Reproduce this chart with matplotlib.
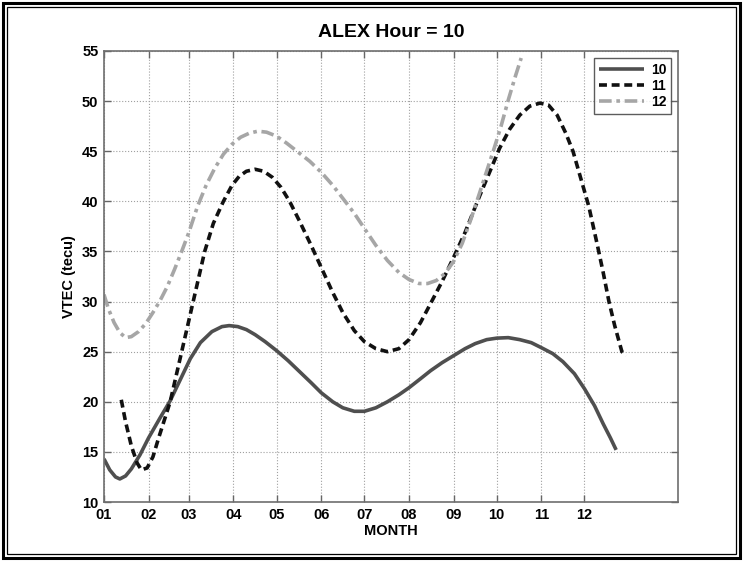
import matplotlib
matplotlib.use("Agg")
import matplotlib.pyplot as plt
from matplotlib.patches import Rectangle

plt.rcParams['font.family'] = ['Liberation Sans', 'DejaVu Sans']

# Month tick positions (day of year) and labels
month_days = [1, 32, 60, 91, 121, 152, 182, 213, 244, 274, 305, 335]
month_labels = ['01', '02', '03', '04', '05', '06', '07', '08', '09', '10', '11', '12']
y_ticks = [10, 15, 20, 25, 30, 35, 40, 45, 50, 55]

# Series "10" (solid)
d10 = [1, 5, 9, 12, 16, 20, 26, 32, 40, 47, 54, 61, 68, 76, 83, 88, 94, 100, 106, 113,
       121, 129, 137, 145, 152, 160, 167, 175, 182, 190, 198, 206, 213, 221, 228, 236,
       244, 252, 259, 267, 274, 282, 290, 298, 305, 313, 320, 328, 335, 342, 348, 353, 357]
v10 = [14.3, 13.2, 12.5, 12.3, 12.6, 13.3, 14.7, 16.4, 18.4, 20.1, 22.2, 24.3, 25.9, 27.0,
       27.5, 27.6, 27.5, 27.2, 26.7, 26.0, 25.1, 24.1, 23.0, 21.9, 20.9, 20.0, 19.4, 19.05,
       19.05, 19.4, 20.0, 20.7, 21.4, 22.3, 23.1, 23.9, 24.6, 25.3, 25.8, 26.2, 26.35, 26.4,
       26.2, 25.9, 25.4, 24.8, 24.0, 22.8, 21.3, 19.6, 17.8, 16.4, 15.2]

# Series "11" (dashed)
d11 = [13, 16, 20, 24, 27, 31, 35, 39, 43, 47, 51, 55, 59, 63, 67, 71, 77, 84, 90, 95, 100,
       106, 112, 118, 124, 130, 137, 145, 152, 160, 167, 175, 182, 190, 198, 206, 213, 221,
       228, 236, 244, 252, 262, 269, 276, 283, 290, 297, 304, 310, 316, 322, 327, 332, 338,
       344, 348, 352, 356, 361, 364]
v11 = [20.2, 18.0, 15.6, 13.9, 13.2, 13.4, 14.5, 16.4, 18.2, 20.0, 22.5, 25.0, 27.5, 30.0,
       32.5, 35.0, 37.8, 40.0, 41.6, 42.5, 43.0, 43.2, 43.0, 42.4, 41.4, 40.0, 38.0, 35.6,
       33.4, 30.9, 28.9, 27.1, 26.0, 25.3, 25.0, 25.3, 26.2, 27.9, 29.8, 32.0, 34.4, 36.9,
       40.5, 42.9, 45.3, 47.2, 48.6, 49.5, 49.8, 49.6, 48.6, 46.8, 45.0, 42.5, 39.5, 35.6,
       32.9, 30.0, 27.6, 25.0, 24.6]

# Series "12" (dash-dot)
d12 = [1, 4, 8, 12, 16, 20, 25, 30, 35, 40, 45, 50, 55, 60, 66, 72, 78, 84, 90, 96, 102, 108,
       114, 121, 128, 136, 144, 152, 160, 167, 175, 182, 190, 198, 206, 213, 220, 226, 232,
       238, 244, 250, 256, 262, 267, 272, 277, 282, 287, 291]
v12 = [30.7, 29.3, 27.9, 26.9, 26.4, 26.5, 27.0, 27.8, 28.9, 30.1, 31.5, 33.2, 35.0, 36.9,
       39.5, 41.6, 43.3, 44.7, 45.7, 46.4, 46.8, 47.0, 46.9, 46.5, 45.8, 44.9, 44.0, 42.9,
       41.6, 40.3, 38.8, 37.3, 35.6, 34.1, 32.9, 32.2, 31.8, 31.8, 32.1, 32.8, 34.0, 35.8,
       38.2, 40.8, 43.0, 45.2, 47.5, 50.1, 52.5, 54.3]

fig = plt.figure(figsize=(7.43, 5.61), dpi=100)
ax = fig.add_axes([104 / 743, 1 - 502 / 561, (678 - 104) / 743, (502 - 51) / 561])

ax.plot(d10, v10, color='#4f4f4f', lw=2.6, linestyle='-', label='10', solid_capstyle='butt')
ax.plot(d11, v11, color='#111111', lw=2.6, linestyle=(0, (2.2, 1.3)), label='11')
ax.plot(d12, v12, color='#a6a6a6', lw=2.6, linestyle=(0, (3.5, 1.3, 1.0, 1.3)), label='12')

ax.set_xlim(1, 400)
ax.set_ylim(10, 55)
ax.set_xticks(month_days)
ax.set_xticklabels(month_labels)
ax.set_yticks(y_ticks)

ax.grid(True, linestyle=':', color='#a0a0a0', lw=0.8)
ax.tick_params(direction='in', top=True, right=True, length=5, width=1.0, color='#666666',
               labelsize=10.5, pad=4)
for lab in ax.get_xticklabels() + ax.get_yticklabels():
    lab.set_fontweight('bold')
for sp in ax.spines.values():
    sp.set_color('#6e6e6e')
    sp.set_linewidth(1.2)

ax.set_title('ALEX Hour = 10', fontsize=14, fontweight='bold', pad=10)
ax.set_xlabel('MONTH', fontsize=10.5, fontweight='bold', labelpad=2)
ax.set_ylabel('VTEC (tecu)', fontsize=10.5, fontweight='bold', labelpad=4)

leg = ax.legend(loc='upper right', fontsize=10, frameon=True, fancybox=False,
                edgecolor='#333333', handlelength=3.2, borderaxespad=0.5,
                borderpad=0.35, labelspacing=0.15, handletextpad=0.5)
leg.get_frame().set_linewidth(1.0)
for t in leg.get_texts():
    t.set_fontweight('bold')

# Double frame around the figure
W, H = 743, 561
fig.patches.append(Rectangle((3 / W, 3 / H), 1 - 6 / W, 1 - 6 / H, transform=fig.transFigure,
                             fill=False, edgecolor='black', lw=2.2))
fig.patches.append(Rectangle((7 / W, 7 / H), 1 - 14 / W, 1 - 14 / H, transform=fig.transFigure,
                             fill=False, edgecolor='black', lw=0.9))

fig.savefig('out.png', dpi=100)
